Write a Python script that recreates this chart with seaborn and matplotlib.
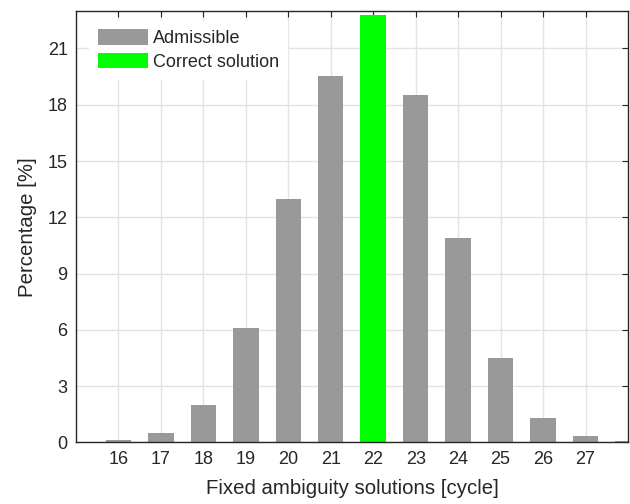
import matplotlib
matplotlib.use("Agg")
import matplotlib.pyplot as plt
import seaborn as sns
import pandas as pd

cycles = [16, 17, 18, 19, 20, 21, 22, 23, 24, 25, 26, 27, 28]
percent = [0.1, 0.5, 2.0, 6.1, 12.95, 19.55, 22.8, 18.5, 10.9, 4.5, 1.3, 0.35, 0.08]
kinds = ["Admissible"] * 6 + ["Correct solution"] + ["Admissible"] * 6
palette = {"Admissible": "#999999", "Correct solution": "#00ff00"}
xticks = list(range(16, 28))
yticks = [0, 3, 6, 9, 12, 15, 18, 21]

sns.set_theme(style="white")
plt.rcParams["font.family"] = ["Liberation Sans", "DejaVu Sans"]
txt = "#262626"

df = pd.DataFrame({"cycle": cycles, "pct": percent, "kind": kinds})

fig = plt.figure(figsize=(6.3, 5.04), dpi=100)
ax = fig.add_axes([0.1206, 0.1224, 0.8762, 0.8558])
sns.barplot(data=df, x="cycle", y="pct", hue="kind", palette=palette,
            native_scale=True, dodge=False, width=0.6, ax=ax,
            edgecolor="none", linewidth=0, saturation=1, legend=True)

ax.set_xlim(15, 28)
ax.set_ylim(0, 23)
ax.set_xticks(xticks)
ax.set_yticks(yticks)
ax.set_xticklabels([str(t) for t in xticks])
ax.grid(True, color="#e3e3e3", linewidth=1)
ax.set_axisbelow(True)
for s in ax.spines.values():
    s.set_color(txt)
    s.set_linewidth(1)
    s.set_visible(True)
ax.tick_params(direction="in", length=4, width=0.8, color=txt, labelcolor=txt,
               labelsize=13, top=True, right=True, pad=6)
ax.set_xlabel("Fixed ambiguity solutions [cycle]", fontsize=14.7, color=txt, labelpad=8)
ax.set_ylabel("Percentage [%]", fontsize=14.7, color=txt, labelpad=8)

handles, labels = ax.get_legend_handles_labels()
leg = ax.legend(handles, labels, loc="upper left", bbox_to_anchor=(0.008, 0.997),
                frameon=True, fancybox=False, edgecolor="white", facecolor="white",
                framealpha=1, fontsize=13, handlelength=2.8, handleheight=0.95,
                handletextpad=0.28, labelspacing=0.3, borderpad=0.45)
for t in leg.get_texts():
    t.set_color(txt)

fig.savefig("out.png", dpi=100)
